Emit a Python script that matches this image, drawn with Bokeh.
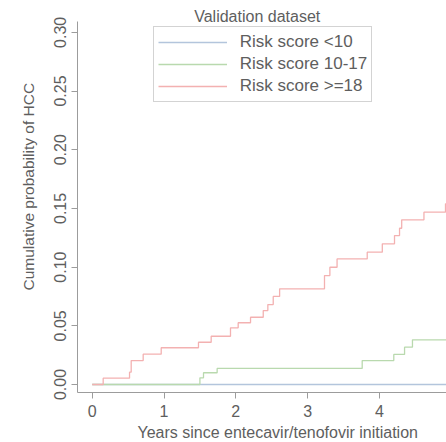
import math
from bokeh.plotting import figure
from bokeh.models import Range1d, FixedTicker, Legend, LegendItem, Label, Title, NumeralTickFormatter
from bokeh.embed import file_html
from bokeh.resources import INLINE

# ---- data ----
series_names = ["Risk score <10", "Risk score 10-17", "Risk score >=18"]

low_t = [0.0, 5.0]
low_p = [0.0, 0.0]

mid_t = [0.0, 1.50, 1.55, 1.74, 3.76, 4.20, 4.35, 4.46, 5.0]
mid_p = [0.0, 0.0057, 0.0100, 0.0137, 0.0204, 0.0256, 0.0318, 0.0381, 0.0381]

high_t = [0.0, 0.153, 0.520, 0.543, 0.710, 0.961, 1.48, 1.657, 1.926, 2.033,
          2.205, 2.382, 2.446, 2.521, 2.61, 3.235, 3.31, 3.41, 3.83, 4.04,
          4.21, 4.28, 4.31, 4.62, 4.92, 5.0]
high_p = [0.0, 0.0054, 0.0105, 0.0204, 0.0258, 0.0313, 0.0360, 0.0411, 0.0483, 0.0526,
          0.0573, 0.0630, 0.0681, 0.0750, 0.0815, 0.0928, 0.0999, 0.1070, 0.1127, 0.1198,
          0.1269, 0.1331, 0.1403, 0.1468, 0.1539, 0.1539]

x_ticks = [0, 1, 2, 3, 4]
y_ticks = [0.00, 0.05, 0.10, 0.15, 0.20, 0.25, 0.30]

title_text = "Validation dataset"
x_title = "Years since entecavir/tenofovir initiation"
y_title = "Cumulative probability of HCC"

colors = ["#b3c5dc", "#b9d9ae", "#f3b1b1"]
text_color = "#5e5e5e"
axis_color = "#9c9c9c"
FONT = "Liberation Sans"

# ---- layout ----
W, H = 446, 442
left, bottom_border = 77, 50
x_lo, x_hi = -0.2047, 4.934
y_lo, y_hi = -0.00681, 0.3271

p = figure(width=W, height=H, x_range=Range1d(x_lo, x_hi), y_range=Range1d(y_lo, y_hi),
           output_backend="svg", toolbar_location=None,
           min_border=0, min_border_left=left, min_border_right=0,
           min_border_top=0, min_border_bottom=bottom_border)
p.outline_line_color = None
p.xgrid.visible = False
p.ygrid.visible = False
p.background_fill_color = "white"
p.border_fill_color = "white"

r_low = p.step(low_t, low_p, mode="after", line_color=colors[0], line_width=1.3)
r_mid = p.step(mid_t, mid_p, mode="after", line_color=colors[1], line_width=1.3)
r_high = p.step(high_t, high_p, mode="after", line_color=colors[2], line_width=1.3)

for ax in (p.xaxis[0], p.yaxis[0]):
    ax.axis_line_color = axis_color
    ax.major_tick_line_color = axis_color
    ax.minor_tick_line_color = None
    ax.major_tick_out = 6
    ax.major_tick_in = 0
    ax.major_label_text_color = text_color
    ax.major_label_text_font = FONT
    ax.major_label_text_font_size = "16px"

p.xaxis.ticker = FixedTicker(ticks=x_ticks)
p.xaxis.bounds = (x_lo, x_hi)
p.xaxis.major_label_standoff = 6

p.yaxis.ticker = FixedTicker(ticks=y_ticks)
p.yaxis.formatter = NumeralTickFormatter(format="0.00")
p.yaxis.major_label_orientation = "vertical"
p.yaxis.bounds = (y_lo, 0.3095)
p.yaxis.major_label_standoff = 5

legend = Legend(items=[LegendItem(label=series_names[0], renderers=[r_low]),
                       LegendItem(label=series_names[1], renderers=[r_mid]),
                       LegendItem(label=series_names[2], renderers=[r_high])],
                location=(75.7, 290.3))
legend.border_line_color = "#a8a8a8"
legend.border_line_width = 1
legend.background_fill_alpha = 1.0
legend.label_text_font = FONT
legend.label_text_font_size = "17px"
legend.label_text_color = text_color
legend.glyph_width = 69
legend.glyph_height = 22
legend.label_height = 22
legend.label_standoff = 13
legend.padding = 4
legend.spacing = 0
legend.margin = 0
p.add_layout(legend)

p.add_layout(Label(x=2.298, y=0.3137, text=title_text, text_align="center", text_baseline="middle",
                   text_font=FONT, text_font_size="16px", text_color=text_color))

xt = Title(text=x_title, align="left", offset=60, text_font=FONT, text_font_size="16px",
           text_font_style="normal", text_color=text_color, standoff=4)
p.add_layout(xt, "below")
yt = Title(text=y_title, align="left", offset=102, vertical_align="top", text_font=FONT,
           text_font_size="15.5px", text_font_style="normal", text_color=text_color, standoff=26)
p.add_layout(yt, "left")

open("out.html", "w").write(file_html(p, INLINE))
